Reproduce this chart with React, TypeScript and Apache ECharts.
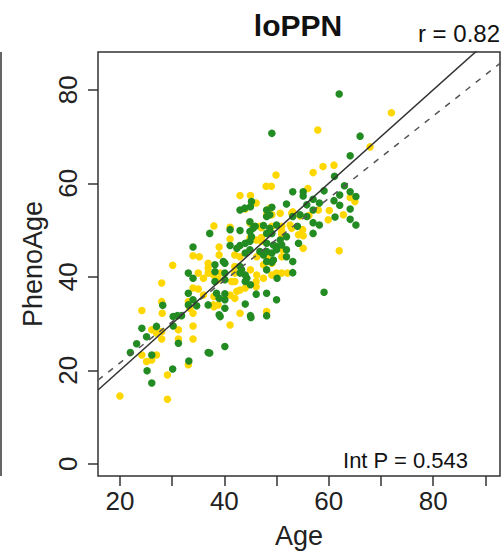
import React, { useEffect, useRef } from "react";
import * as echarts from "echarts";

const FONT = "'Liberation Sans', Arial, Helvetica, sans-serif";

const chartTitle = "loPPN";
const corrLabel = "r = 0.82";
const intPLabel = "Int P = 0.543";
const xName = "Age";
const yName = "PhenoAge";

const xRange = [15.8, 92.8];
const yRange = [-2.6, 88.1];
const xLabelValues = [20, 40, 60, 80];
const xTickValues = [20, 30, 40, 50, 60, 70, 80, 90];
const yLabelValues = [0, 20, 40, 60, 80];

// [intercept, slope]
const solidLine = [0, 1];
const dashedLine = [4.0, 0.88];

const greenPoints = [
  [62.0,79.1],[49.1,70.7],[66.0,70.1],[64.1,65.9],[61.1,61.5],[63.0,59.5],[53.1,58.2],[55.1,58.2],[55.1,57.3],[59.1,58.4],
  [64.1,58.2],[62.1,57.5],[65.2,57.2],[51.9,55.6],[57.0,56.6],[58.2,55.8],[61.0,56.3],[62.1,55.3],[64.1,54.5],[61.2,52.8],
  [64.1,52.3],[65.2,51.1],[57.0,51.6],[58.2,51.1],[57.0,49.3],[54.2,47.2],[53.1,43.3],[51.0,46.8],[51.9,45.8],[59.1,36.7],
  [45.2,56.1],[45.0,55.0],[43.0,54.3],[48.1,54.3],[49.1,54.9],[53.1,52.9],[54.5,53.3],[57.0,54.3],[48.1,52.9],[37.2,49.3],
  [41.1,50.1],[43.0,49.9],[44.9,49.7],[45.9,50.8],[45.2,48.6],[48.1,49.3],[49.1,49.3],[51.9,48.6],[54.0,50.8],[34.0,46.4],
  [41.1,46.7],[43.0,46.7],[44.0,47.2],[44.0,45.1],[48.1,47.2],[48.1,45.4],[49.1,45.1],[50.0,46.5],[51.9,44.3],[48.1,43.3],
  [49.1,43.1],[53.1,40.9],[33.1,40.8],[34.0,39.7],[38.2,42.6],[38.2,41.1],[40.1,42.9],[40.1,40.8],[40.1,39.4],[43.0,42.2],
  [43.0,40.8],[44.0,40.4],[44.0,39.0],[48.1,41.5],[50.1,39.7],[45.0,38.3],[46.1,36.3],[48.1,36.5],[50.0,35.1],[40.1,36.4],
  [40.1,35.1],[40.1,33.3],[44.0,34.2],[45.0,31.7],[48.1,31.7],[39.0,35.4],[39.0,31.9],[36.9,34.0],[33.1,36.5],[34.0,35.1],
  [31.0,31.7],[28.2,33.9],[30.2,31.5],[31.8,31.7],[34.7,33.8],[24.2,29.0],[27.0,29.4],[25.1,27.2],[30.2,29.5],[31.2,25.8],
  [23.2,25.7],[22.0,23.8],[26.1,23.3],[25.2,19.9],[26.1,17.3],[30.1,20.3],[33.2,22.0],[36.9,23.8],[40.1,25.1],[37.2,23.7],
  [39.2,31.5],[45.1,31.3],[43.9,54.7],[48.7,53.3],[55.8,55.4],[55.8,52.9],[44.9,51.8],[45.5,50.4],[47.5,51.0],[48.7,50.4],
  [50.0,51.1],[50.7,47.9],[44.9,47.6],[44.9,45.8],[42.4,46.1],[46.8,45.4],[47.5,44.7],[49.4,46.8],[50.0,45.8],[39.8,43.3],
  [43.3,41.5],[44.3,39.7],[49.4,43.6],[38.5,36.5],[38.2,39.0],[33.1,34.0]
];

const yellowPoints = [
  [72.0,75.1],[57.9,71.4],[67.9,67.8],[61.0,63.9],[58.9,63.6],[57.0,62.3],[49.9,61.8],[48.0,59.4],[49.0,59.4],[56.0,58.9],
  [43.0,57.4],[45.0,57.4],[64.1,57.0],[65.0,56.1],[60.1,54.2],[59.9,52.2],[58.0,54.3],[62.8,53.3],[56.2,53.1],[54.5,53.0],
  [50.7,53.6],[51.0,49.7],[55.0,50.1],[55.1,46.1],[62.0,45.6],[46.1,55.8],[44.0,54.5],[48.1,53.3],[49.1,53.3],[53.1,53.9],
  [38.0,50.9],[41.1,50.6],[41.1,48.1],[47.1,50.5],[49.1,50.8],[51.0,50.8],[51.0,49.0],[52.9,50.4],[55.1,48.8],[34.0,44.5],
  [35.2,44.3],[30.1,42.5],[39.0,46.4],[39.0,44.7],[42.0,44.7],[43.0,44.3],[44.9,48.3],[46.1,47.9],[47.1,48.4],[47.1,47.6],
  [48.1,44.3],[51.2,45.8],[51.0,44.3],[49.1,42.9],[50.0,40.8],[51.0,40.8],[52.1,40.8],[35.0,40.8],[36.9,42.9],[36.9,41.9],
  [36.9,40.8],[39.2,40.8],[42.0,42.2],[42.0,40.8],[42.0,39.0],[45.0,41.5],[46.1,39.0],[46.1,37.9],[44.0,37.6],[41.1,36.1],
  [43.0,37.2],[42.0,35.4],[43.0,32.2],[48.1,32.6],[38.0,35.8],[38.0,33.6],[28.0,38.7],[28.0,34.7],[24.2,32.8],[33.1,34.7],
  [33.4,33.3],[36.0,39.7],[34.0,37.6],[35.0,37.4],[36.0,36.1],[28.1,32.2],[34.0,32.2],[26.1,28.7],[27.0,28.0],[28.0,28.3],
  [28.0,26.7],[31.2,28.7],[34.0,29.5],[34.0,26.7],[31.2,26.7],[24.2,23.3],[27.0,23.3],[25.1,21.9],[26.1,22.2],[29.1,19.0],
  [33.1,21.2],[20.0,14.5],[29.1,13.8],[41.1,29.7],[37.9,34.0],[38.8,34.0],[48.7,54.7],[52.9,53.6],[44.9,51.5],[46.8,50.8],
  [52.6,51.1],[54.2,49.0],[46.2,44.3],[48.4,43.6],[47.5,42.6],[37.9,40.4],[38.8,39.4],[46.2,40.4],[47.5,39.7],[49.1,40.4],
  [41.4,39.0],[42.4,36.9]
];

function lineData(coef: number[]) {
  return xRange.map((x) => [x, coef[0] + coef[1] * x]);
}

export default function App() {
  const ref = useRef<HTMLDivElement>(null);
  useEffect(() => {
    if (!ref.current) return;
    const chart = echarts.init(ref.current, null, { renderer: "svg" });
    const gridLeft = 98, gridTop = 52, gridW = 402, gridH = 424;
    chart.setOption({
      animation: false,
      backgroundColor: "#ffffff",
      textStyle: { fontFamily: FONT },
      grid: {
        left: gridLeft, top: gridTop, width: gridW, height: gridH,
        show: true, borderColor: "#333", borderWidth: 1.5, backgroundColor: "transparent",
      },
      xAxis: {
        type: "value", min: xRange[0], max: xRange[1],
        name: xName, nameLocation: "middle", nameGap: 46,
        nameTextStyle: { fontSize: 27, color: "#222", fontFamily: FONT },
        axisLine: { show: false, onZero: false },
        axisTick: { show: true, length: 10, customValues: xTickValues, lineStyle: { color: "#333", width: 1.5 } },
        axisLabel: { customValues: xLabelValues, fontSize: 26, color: "#222", margin: 12, fontFamily: FONT },
        splitLine: { show: false },
      },
      yAxis: {
        type: "value", min: yRange[0], max: yRange[1],
        name: yName, nameLocation: "middle", nameGap: 52,
        nameTextStyle: { fontSize: 27, color: "#222", fontFamily: FONT },
        axisLine: { show: false, onZero: false },
        axisTick: { show: true, length: 10, customValues: yLabelValues, lineStyle: { color: "#333", width: 1.5 } },
        axisLabel: { customValues: yLabelValues, fontSize: 26, color: "#222", margin: 17, rotate: 90, fontFamily: FONT },
        splitLine: { show: false },
      },
      series: [
        {
          type: "scatter", data: yellowPoints, symbol: "circle", symbolSize: 7.5,
          itemStyle: { color: "#FFD700", opacity: 1 }, silent: true,
        },
        {
          type: "scatter", data: greenPoints, symbol: "circle", symbolSize: 7.5,
          itemStyle: { color: "#228B22", opacity: 1 }, silent: true,
        },
        {
          type: "line", data: lineData(dashedLine), symbol: "none", clip: true,
          lineStyle: { color: "#555", width: 1.5, type: [6, 7] }, silent: true,
        },
        {
          type: "line", data: lineData(solidLine), symbol: "none", clip: true,
          lineStyle: { color: "#333", width: 1.5 }, silent: true,
        },
      ],
      graphic: [
        { type: "line", shape: { x1: 1, y1: 52, x2: 1, y2: 476 }, style: { stroke: "#333", lineWidth: 1.5 } },
        {
          type: "text", x: 298, y: 25,
          style: { text: chartTitle, font: `bold 30px ${FONT}`, fill: "#111", textAlign: "center", textVerticalAlign: "middle" },
        },
        {
          type: "text", x: 500, y: 33,
          style: { text: corrLabel, font: `24px ${FONT}`, fill: "#111", textAlign: "right", textVerticalAlign: "middle" },
        },
        {
          type: "text", x: 468, y: 460, z: 100,
          style: { text: intPLabel, font: `22px ${FONT}`, fill: "#111", textAlign: "right", textVerticalAlign: "middle" },
        },
      ],
    });
    return () => chart.dispose();
  }, []);
  return <div ref={ref} style={{ position: "fixed", left: 0, top: 0, width: 501, height: 555 }} />;
}
